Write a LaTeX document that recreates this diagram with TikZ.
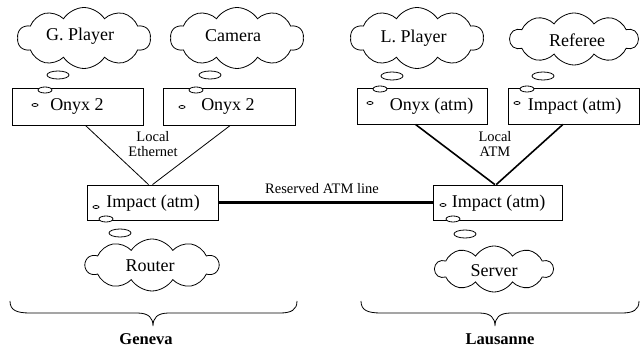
\documentclass[tikz,border=0pt]{standalone}
\usepackage{fontspec}
\setmainfont{Liberation Serif}
\newfontfamily\tms{Liberation Serif}
\usetikzlibrary{shapes.symbols,shapes.geometric,calc}
\begin{document}
\begin{tikzpicture}[x=1pt,y=-1pt,
  cloudnode/.style={cloud, draw, cloud puffs=10, cloud puff arc=115, cloud ignores aspect,
     inner sep=0pt, minimum width=133pt, minimum height=61pt, line width=0.8pt},
  cloudtext/.style={font=\tms\fontsize{18}{20}\selectfont, inner sep=0pt},
  bubble/.style={ellipse, draw, fill=white, inner sep=0pt, minimum width=22pt, minimum height=8pt, line width=0.8pt},
  smallbubble/.style={ellipse, draw, fill=white, inner sep=0pt, minimum width=14pt, minimum height=6pt, line width=0.8pt},
  dotbubble/.style={ellipse, draw, inner sep=0pt, minimum width=6pt, minimum height=3pt, line width=0.8pt},
  hostbox/.style={rectangle, draw, inner sep=0pt, line width=0.8pt},
  boxtext/.style={font=\tms\fontsize{18}{20}\selectfont, inner sep=0pt},
  lbl/.style={font=\tms\fontsize{14.5}{15}\selectfont, inner sep=0pt, align=center},
  city/.style={font=\tms\fontsize{16.5}{18}\selectfont\bfseries, inner sep=0pt},
  link/.style={line width=0.8pt},
  atmlink/.style={line width=1.6pt}
]
\useasboundingbox (0,0) rectangle (640,352);

% clouds
\node[cloudnode] (gp) at (84,38) {};
\node[cloudnode] (cam) at (237,38) {};
\node[cloudnode] (lp) at (417,38) {};
\node[cloudnode, minimum width=128pt, minimum height=52pt] (ref) at (574,39) {};
\node[cloudnode, minimum height=52pt] (router) at (152,265) {};
\node[cloudnode, minimum width=118pt, minimum height=46pt] (server) at (494,269) {};
\node[cloudtext] (gpt) at (80,36) {G. Player};
\node[cloudtext] (camt) at (233,36) {Camera};
\node[cloudtext] (lpt) at (413.5,38) {L. Player};
\node[cloudtext] (reft) at (577,40) {Referee};
\node[cloudtext] (routert) at (150,266) {Router};
\node[cloudtext] (servert) at (494,271) {Server};

% boxes
\node[hostbox, minimum width=131pt, minimum height=37pt] (onyxL) at (77.5,106.5) {};
\node[hostbox, minimum width=132pt, minimum height=37pt] (onyxC) at (229,106.5) {};
\node[hostbox, minimum width=130pt, minimum height=36pt] (onyxA) at (422,106) {};
\node[hostbox, minimum width=131pt, minimum height=36pt] (impR) at (573.5,106) {};
\node[hostbox, minimum width=131pt, minimum height=35pt] (impG) at (152.5,202.5) {};
\node[hostbox, minimum width=129pt, minimum height=35pt] (impL) at (497.5,202.5) {};

% box texts
\node[boxtext] (t1) at (77,106) {Onyx 2};
\node[boxtext] (t2) at (228,106) {Onyx 2};
\node[boxtext] (t3) at (431.5,106) {Onyx (atm)};
\node[boxtext] (t4) at (574.5,106) {Impact (atm)};
\node[boxtext] (t5) at (153,203) {Impact (atm)};
\node[boxtext] (t6) at (498.5,203) {Impact (atm)};

% dots in boxes
\node[dotbubble] (d1) at (35,105) {};
\node[dotbubble] (d2) at (182,107) {};
\node[dotbubble] (d3) at (370,103) {};
\node[dotbubble] (d4) at (517,103) {};
\node[dotbubble] (d5) at (96,207) {};
\node[dotbubble] (d6) at (443,205) {};

% thought bubbles
\node[bubble] (b1) at (58,75) {};
\node[bubble] (b2) at (210,75) {};
\node[bubble] (b3) at (392,76) {};
\node[bubble] (b4) at (543,76) {};
\node[smallbubble] (s1) at (45,90) {};
\node[smallbubble] (s2) at (196,90) {};
\node[smallbubble] (s3) at (380,89) {};
\node[smallbubble] (s4) at (527,89) {};
\node[smallbubble] (s5) at (106,219) {};
\node[smallbubble] (s6) at (453,219) {};
\node[bubble] (b5) at (120,233) {};
\node[bubble] (b6) at (465,234) {};

% links
\draw[link] ($(onyxL.south west)!0.56!(onyxL.south east)$) -- ($(impG.north west)!0.47!(impG.north east)$);
\draw[link] ($(onyxC.south west)!0.51!(onyxC.south east)$) -- ($(impG.north west)!0.5!(impG.north east)$);
\draw[atmlink] ($(onyxA.south west)!0.45!(onyxA.south east)$) -- ($(impL.north west)!0.48!(impL.north east)$);
\draw[atmlink] ($(impR.south west)!0.42!(impR.south east)$) -- ($(impL.north west)!0.49!(impL.north east)$);
\draw[line width=2.6pt] (impG.east) -- (impL.west);

% labels
\node[lbl] (l1) at (153,144) {Local\\Ethernet};
\node[lbl] (l2) at (495,144) {Local\\ATM};
\node[lbl] (l3) at (322,189) {Reserved ATM line};

% braces
\draw[link] (10,301) .. controls (10,310) and (16,313) .. (30,313) -- (137,313)
  .. controls (149,313) and (153,318) .. (153,326)
  .. controls (153,318) and (157,313) .. (169,313) -- (280,313)
  .. controls (291,313) and (297,310) .. (297,301);
\draw[link] (361,301) .. controls (361,310) and (367,313) .. (381,313) -- (479,313)
  .. controls (491,313) and (495,318) .. (495,326)
  .. controls (495,318) and (499,313) .. (511,313) -- (622,313)
  .. controls (633,313) and (639,310) .. (639,301);

\node[city] (geneva) at (146,339) {Geneva};
\node[city] (lausanne) at (500,339) {Lausanne};
\end{tikzpicture}
\end{document}
